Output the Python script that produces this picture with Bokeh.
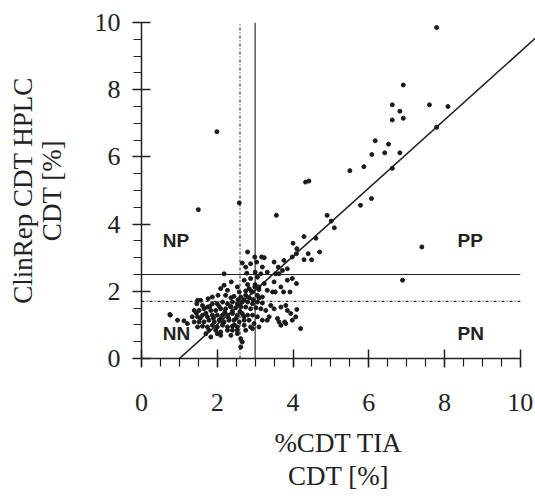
from bokeh.plotting import figure
from bokeh.models import FixedTicker, Range1d
from bokeh.core.properties import value
from bokeh.embed import file_html
from bokeh.resources import INLINE

# %CDT TIA (x) and ClinRep CDT HPLC (y), outlying samples
out_x = [7.79, 6.91, 6.62, 7.60, 8.09, 6.82, 6.62, 6.91, 7.79, 6.17, 6.52, 6.08, 6.42, 6.82,
         5.87, 5.50, 6.62, 4.33, 4.42, 5.78, 6.07, 4.90, 5.01, 5.09, 4.29, 4.60, 7.40, 4.40,
         4.70, 1.99, 1.50, 2.58, 3.56, 6.89, 4.20, 0.75, 4.10, 3.78, 3.68, 4.00, 4.10, 4.29, 4.49]
out_y = [9.85, 8.14, 7.55, 7.55, 7.50, 7.36, 7.10, 7.15, 6.88, 6.48, 6.38, 6.07, 6.12, 6.12,
         5.71, 5.59, 5.66, 5.25, 5.28, 4.56, 4.76, 4.26, 4.09, 3.89, 3.63, 3.58, 3.32, 3.12,
         3.17, 6.75, 4.43, 4.63, 4.26, 2.33, 0.89, 1.31, 1.46, 1.09, 0.99, 3.43, 3.27, 2.94, 2.94]

# main cluster
clu_x = [2.80, 2.66, 2.75, 2.88, 2.99, 3.17, 3.24, 3.04, 3.19, 3.50, 3.61, 3.76, 3.98, 4.09,
         2.78, 3.00, 3.15, 3.32, 3.54, 3.72, 3.85, 3.63,
         2.18, 2.37, 2.18, 2.53, 2.71, 2.88, 3.06, 3.24, 3.32, 3.50, 3.68, 3.85, 3.98, 4.09,
         3.92, 3.75, 3.46, 3.53, 2.09, 2.27, 2.58, 2.75, 2.84, 2.99, 3.10, 2.93, 3.06, 3.19,
         2.75, 2.62, 2.44, 2.36, 2.22, 2.02, 1.87, 1.76, 1.56, 1.48, 1.46,
         1.61, 1.74, 1.87, 2.00, 2.14, 2.27, 2.40, 2.53, 2.66, 2.80, 2.93, 3.06, 3.19,
         3.41, 3.50, 3.68, 3.81, 3.85, 3.94, 4.07, 3.98,
         1.39, 1.52, 1.65, 1.83, 1.96, 2.09, 2.22, 2.36, 2.49, 2.62, 2.75, 2.88, 3.02, 3.15, 3.28,
         3.37, 3.59, 3.63, 3.81,
         1.34, 1.48, 1.61, 1.74, 1.87, 2.00, 2.14, 2.27, 2.40, 2.53, 2.66, 2.80, 2.93, 3.06, 3.19, 3.32,
         1.39, 1.52, 1.65, 1.78, 1.92, 2.05, 2.18, 2.31, 2.44, 2.58, 2.71, 2.84, 2.97, 3.10,
         1.48, 1.61, 1.74, 1.87, 2.00, 2.14, 2.27, 2.40, 2.53, 2.71, 2.88,
         1.78, 1.96, 2.09, 2.27, 2.40, 2.53, 2.75, 2.93,
         1.83, 2.09, 2.36, 2.53, 2.62, 2.66, 2.62,
         0.76, 0.95, 1.12, 1.21, 1.70, 2.00,
         1.90, 2.10, 2.30, 2.50, 2.20, 2.40, 2.60, 1.70, 2.45, 2.15, 2.60, 2.70, 2.85, 2.55,
         2.95, 3.10, 2.35, 2.05, 1.80, 2.70, 1.55, 1.45, 2.90, 3.00, 2.80, 3.10]
clu_y = [3.17, 2.84, 2.72, 2.82, 3.02, 3.02, 3.00, 2.87, 2.72, 2.87, 2.72, 2.92, 3.02, 3.12,
         2.54, 2.57, 2.52, 2.57, 2.52, 2.62, 2.67, 2.52,
         2.52, 2.28, 2.18, 2.13, 2.33, 2.38, 2.42, 2.23, 2.03, 2.28, 2.13, 2.33, 2.38, 2.23,
         1.98, 1.98, 1.98, 1.98, 2.08, 2.03, 1.98, 2.01, 2.08, 2.13, 2.13, 1.98, 1.88, 1.83,
         1.88, 1.83, 1.85, 1.81, 1.88, 1.88, 1.83, 1.78, 1.73, 1.73, 1.63,
         1.58, 1.53, 1.63, 1.63, 1.68, 1.63, 1.68, 1.63, 1.68, 1.68, 1.63, 1.68, 1.65,
         1.58, 1.48, 1.53, 1.58, 1.43, 1.34, 1.24, 1.14,
         1.43, 1.43, 1.48, 1.43, 1.43, 1.48, 1.48, 1.53, 1.51, 1.53, 1.53, 1.48, 1.51, 1.48, 1.43,
         1.24, 1.19, 1.09, 1.04,
         1.24, 1.24, 1.29, 1.24, 1.29, 1.29, 1.29, 1.29, 1.34, 1.29, 1.34, 1.29, 1.29, 1.24, 1.14, 1.14,
         1.09, 1.09, 1.09, 1.14, 1.09, 1.14, 1.09, 1.14, 1.14, 1.09, 1.14, 1.14, 1.04, 0.94,
         0.94, 0.96, 0.94, 0.99, 0.94, 0.99, 0.94, 0.96, 0.94, 0.99, 0.94,
         0.84, 0.84, 0.79, 0.84, 0.84, 0.84, 0.84, 0.89,
         0.64, 0.69, 0.69, 0.74, 0.59, 0.49, 0.34,
         1.29, 1.14, 1.12, 1.04, 0.74, 0.74,
         1.20, 1.20, 1.20, 1.20, 1.38, 1.40, 1.40, 1.35, 1.00, 1.05, 1.60, 1.75, 1.80, 1.75,
         1.75, 1.80, 1.55, 1.55, 1.55, 1.25, 1.20, 1.35, 2.00, 2.20, 2.20, 2.05]

# regression line end points and cut-off lines
reg_x = [1.0, 10.6]
reg_y = [0.0, 9.74]
cut_tia_ref = 2.6    # dash-dot vertical
cut_tia = 3.0        # solid vertical
cut_hplc = 2.5       # solid horizontal
cut_hplc_ref = 1.7   # dash-dot horizontal

quad_names = ["NP", "PP", "NN", "PN"]
quad_x = [0.56, 8.34, 0.56, 8.34]
quad_y = [3.51, 3.51, 0.74, 0.74]

ticks = [0, 2, 4, 6, 8, 10]
minor = [i * 0.5 for i in range(21)]

INK = "#222222"
SERIF = "Liberation Serif"

p = figure(width=535, height=498, output_backend="svg", toolbar_location=None,
           x_range=Range1d(0, 10.4), y_range=Range1d(0, 10),
           min_border_left=141, min_border_top=22, min_border_right=0, min_border_bottom=140,
           background_fill_color="white", border_fill_color="white")
p.outline_line_color = None
p.grid.visible = False

for ax in (p.xaxis[0], p.yaxis[0]):
    ax.bounds = (0, 10)
    ax.ticker = FixedTicker(ticks=ticks, minor_ticks=minor)
    ax.axis_line_color = INK
    ax.axis_line_width = 1.5
    ax.major_tick_line_color = INK
    ax.major_tick_line_width = 1.5
    ax.minor_tick_line_color = INK
    ax.minor_tick_line_width = 1.2
    ax.major_tick_in = 9
    ax.major_tick_out = 9
    ax.minor_tick_in = 0
    ax.minor_tick_out = 8
    ax.major_label_text_font = SERIF
    ax.major_label_text_font_size = "26px"
    ax.major_label_text_color = INK
    ax.axis_label_text_font = SERIF
    ax.axis_label_text_font_size = "27px"
    ax.axis_label_text_font_style = "normal"
    ax.axis_label_text_color = INK

p.xaxis.axis_label = "%CDT TIA\nCDT [%]"
p.yaxis.axis_label = "ClinRep CDT HPLC\nCDT [%]"
p.xaxis.axis_label_text_line_height = 1.1
p.yaxis.axis_label_text_line_height = 0.96
p.xaxis.major_label_standoff = 26
p.yaxis.major_label_standoff = 12
p.xaxis.axis_label_standoff = 14
p.yaxis.axis_label_standoff = 25

# cut-off lines
p.line([cut_tia_ref, cut_tia_ref], [0, 10], line_color=INK, line_width=1.1, line_dash="3 2 1 2")
p.line([cut_tia, cut_tia], [0, 10], line_color=INK, line_width=1.1)
p.line([0, 10], [cut_hplc, cut_hplc], line_color=INK, line_width=1.1)
p.line([0, 10], [cut_hplc_ref, cut_hplc_ref], line_color=INK, line_width=1.1, line_dash="3 2 1 2")
p.line(reg_x, reg_y, line_color=INK, line_width=1.6)

p.scatter(clu_x, clu_y, size=4, color="#1a1a1a")
p.scatter(out_x, out_y, size=4, color="#1a1a1a")

p.text(quad_x, quad_y, text=quad_names, text_font=value("Liberation Sans"),
       text_font_style="bold", text_font_size="19px", text_color=INK,
       text_align="left", text_baseline="middle")

open("out.html", "w").write(file_html(p, INLINE))
